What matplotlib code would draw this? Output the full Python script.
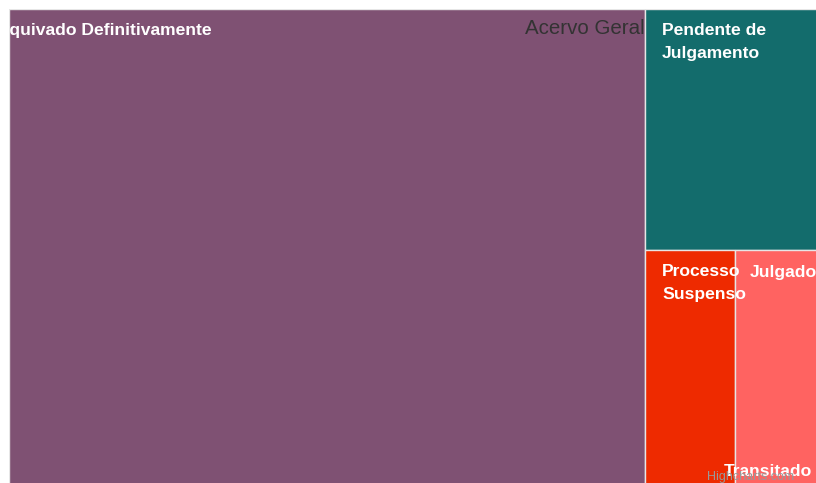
import matplotlib
matplotlib.use("Agg")
import matplotlib.pyplot as plt
from matplotlib.patches import Rectangle

# treemap data (Acervo Geral)
names = ["Arquivado Definitivamente", "Pendente de\nJulgamento", "Processo\nSuspenso", "Julgado Transitado"]
values = [7785, 1103, 553, 559]
colors = ["#7f5173", "#136c6c", "#ee2a00", "#ff6361"]

W, H = 816, 483
fig = plt.figure(figsize=(W / 100, H / 100), dpi=100)
fig.patch.set_facecolor("white")
# plot area starts at 9px, treemap runs past the right/bottom edge
ax = fig.add_axes([9 / W, 0, (W - 9) / W, (H - 9) / H])
ax.set_xlim(9, W)
ax.set_ylim(H, 9)
ax.axis("off")

# box of the treemap (larger than visible area)
x0, y0, bw, bh = 9, 9, 817, 484
total = sum(values)

# first item takes a column, the rest fill the right column
w1 = bw * values[0] / total
rects = [(x0, y0, w1, bh)]
rest = total - values[0]
rw = bw - w1
h2 = bh * values[1] / rest
rects.append((x0 + w1, y0, rw, h2))
bottom = values[2] + values[3]
w3 = rw * values[2] / bottom
rects.append((x0 + w1, y0 + h2, w3, bh - h2))
rects.append((x0 + w1 + w3, y0 + h2, rw - w3, bh - h2))

for (x, y, w, h), c in zip(rects, colors):
    ax.add_patch(Rectangle((x, y), w, h, facecolor=c, edgecolor="#e6e6e6", linewidth=1))

lab = dict(color="white", fontsize=12.6, fontweight="bold", family="Liberation Sans",
           clip_on=True)

# labels
ax.text(212, 30, names[0], ha="right", va="center", **lab)
ax.text(rects[1][0] + 17, 30, names[1].split("\n")[0], ha="left", va="center", **lab)
ax.text(rects[1][0] + 17, 53, names[1].split("\n")[1], ha="left", va="center", **lab)
ax.text(rects[2][0] + 17, 272, names[2].split("\n")[0], ha="left", va="center", **lab)
ax.text(rects[2][0] + 17, 294, names[2].split("\n")[1], ha="left", va="center", **lab)
jt = names[3].split()
ax.text(750, 272, jt[0], ha="left", va="center", **lab)
ax.text(724, 472, jt[1], ha="left", va="center", **lab)

ax.text(645, 28, "Acervo Geral", ha="right", va="center", color="#333333",
        fontsize=14.8, family="Liberation Sans")
ax.text(707, 477, "Highcharts.com", ha="left", va="center", color="#999999",
        fontsize=9, family="Liberation Sans")

fig.savefig("out.png", dpi=100)
